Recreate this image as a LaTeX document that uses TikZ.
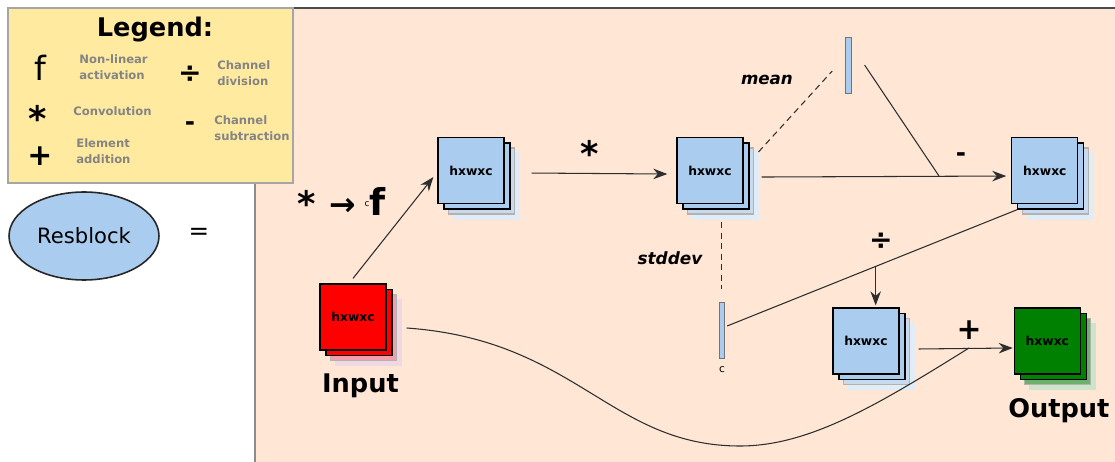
\documentclass[tikz,border=0pt]{standalone}
\usepackage{fontspec}
\setmainfont{DejaVu Sans}
\usetikzlibrary{positioning,shapes.geometric,shadows,arrows.meta,calc}

\definecolor{peach}{RGB}{255,230,213}
\definecolor{legendyellow}{RGB}{255,234,160}
\definecolor{legendgray}{RGB}{132,132,132}
\definecolor{mapblue}{RGB}{170,204,238}
\definecolor{mapblueL}{RGB}{200,219,238}
\definecolor{mapblueXL}{RGB}{226,236,246}
\definecolor{mapred}{RGB}{255,0,0}
\definecolor{mapredL}{RGB}{240,160,170}
\definecolor{mapredXL}{RGB}{240,215,225}
\definecolor{mapgreen}{RGB}{0,128,0}
\definecolor{mapgreenL}{RGB}{110,175,110}
\definecolor{mapgreenXL}{RGB}{205,228,200}
\definecolor{wirecol}{RGB}{45,45,45}

\newcommand{\fsz}[1]{\fontsize{#1}{#1}\selectfont}

\tikzset{
  fmap/.style n args={3}{draw=black, fill=#1, line width=0.7pt, minimum size=1.32cm, inner sep=0pt,
    font=\bfseries\fsz{7pt},
    general shadow={shadow xshift=0.31cm, shadow yshift=-0.31cm, fill=#3, draw=#3},
    general shadow={shadow xshift=0.21cm, shadow yshift=-0.21cm, fill=#2, draw=black!30},
    general shadow={shadow xshift=0.12cm, shadow yshift=-0.11cm, fill=#1, draw=black}},
  bluemap/.style={fmap={mapblue}{mapblueL}{mapblueXL}},
  redmap/.style={fmap={mapred}{mapredL}{mapredXL}},
  greenmap/.style={fmap={mapgreen}{mapgreenL}{mapgreenXL}},
  bar/.style={draw=black!55, fill=mapblue, line width=0.5pt, minimum width=0.11cm, minimum height=1.12cm, inner sep=0pt},
  wire/.style={draw=wirecol, line width=0.6pt},
  arr/.style={wire, -{Stealth[length=8pt,width=6pt]}},
  dashwire/.style={wire, dash pattern=on 3.5pt off 2.5pt},
  sym/.style={inner sep=0pt},
  legtext/.style={text=legendgray, font=\bfseries\fontsize{6.6pt}{9.2pt}\selectfont, align=left, inner sep=0pt, anchor=west}
}

\begin{document}
\begin{tikzpicture}[x=0.02cm, y=-0.02cm]
        \useasboundingbox (0,0) rectangle (1115,462);
        \fill[peach] (255,8) rectangle (1115,462);
        \draw[black!45, line width=1.2pt] (255,462) -- (255,8);
        \draw[black!70, line width=1.2pt] (255,8) -- (1115,8);
        \filldraw[fill=legendyellow, draw=black!35, line width=1pt] (8,8) rectangle (293,183);

        \node [font=\bfseries\fsz{14.6pt}] (LegTitle) at (155,30) {Legend:};
        \node [sym, font=\fsz{19pt}] (LegF) at (40.5,67.5) {f};
        \node [legtext] (LegFText) at (79,67) {Non-linear\\activation};
        \node [sym, font=\bfseries\fsz{20pt}] (LegConv) at (38,118) {*};
        \node [legtext] (LegConvText) at (73,111) {Convolution};
        \node [sym, font=\bfseries\fsz{17pt}] (LegAdd) at (40,156) {+};
        \node [legtext] (LegAddText) at (76,151) {Element\\addition};
        \node [sym, font=\bfseries\fsz{16pt}] (LegDiv) at (190,74) {÷};
        \node [legtext] (LegDivText) at (217,73) {Channel\\division};
        \node [sym, font=\bfseries\fsz{14pt}] (LegSub) at (190,126) {-};
        \node [legtext] (LegSubText) at (214,128) {Channel\\subtraction};

        \node [ellipse, draw=black!85, fill=mapblue, line width=0.9pt, minimum width=3cm, minimum height=1.76cm, inner sep=0pt, font=\fsz{12pt}] (Res) at (84,236) {Resblock};
        \node [sym, font=\fsz{14pt}] (Eq) at (199,234) {=};

        \node [redmap] (In) at (353,317) {hxwxc};
        \node [bluemap, on grid, above right=2.93cm and 2.36cm of In] (Act) {hxwxc};
        \node [bluemap, on grid, right=4.78cm of Act] (Conv) {hxwxc};
        \node [bluemap, on grid, right=6.7cm of Conv] (Centred) {hxwxc};
        \node [bar, on grid, above right=2.11cm and 2.77cm of Conv] (Mean) {};
        \node [bar, on grid, below right=3.19cm and 0.24cm of Conv] (Std) {};
        \node [bluemap, on grid, below right=3.41cm and 3.12cm of Conv] (Norm) {hxwxc};
        \node [greenmap, on grid, right=3.63cm of Norm] (Out) {hxwxc};

        \node [on grid, below right=1.38cm and 0.15cm of In, font=\bfseries\fsz{14.6pt}] (InText) {Input};
        \node [on grid, below right=1.4cm and 0.23cm of Out, font=\bfseries\fsz{14.6pt}] (OutText) {Output};
        \node [on grid, below left=0.3cm and 1.63cm of Mean, font=\bfseries\itshape\fsz{9.5pt}] (MeanText) {mean};
        \node [on grid, above left=1.44cm and 1.04cm of Std, font=\bfseries\itshape\fsz{9.6pt}] (StdText) {stddev};
        \node [on grid, below=0.8cm of Std, font=\fsz{6pt}] (StdC) {c};

        \node [sym, font=\bfseries\fsz{20pt}] (OpConvA) at (307,203) {*};
        \node [sym, font=\bfseries\fsz{18pt}] (OpTo) at (343,207) {→};
        \node [sym, font=\fsz{5pt}] (OpC) at (367,204) {c};
        \node [sym, font=\bfseries\fsz{21pt}] (OpF) at (378,201) {f};
        \node [sym, font=\bfseries\fsz{20pt}] (OpConvB) at (590,153) {*};
        \node [sym, font=\bfseries\fsz{14pt}] (OpSub) at (961,157) {-};
        \node [sym, font=\bfseries\fsz{16pt}] (OpDiv) at (881,241) {÷};
        \node [sym, font=\bfseries\fsz{17pt}] (OpAdd) at (969,330) {+};

        \coordinate (Sub) at (939,176);
        \coordinate (Add) at (969,348);
        \coordinate (Dip) at (740,446);

        \draw [arr] ([yshift=0.1cm]In.north) -- ([xshift=-0.08cm,yshift=-0.13cm]Act.west);
        \draw [arr] ([xshift=0.54cm,yshift=-0.05cm]Act.east) -- ([xshift=-0.18cm,yshift=-0.07cm]Conv.west);
        \draw [arr] ([xshift=0.36cm,yshift=-0.13cm]Conv.east) -- ([xshift=-0.1cm,yshift=-0.11cm]Centred.west);
        \draw [dashwire] ([xshift=0.3cm,yshift=-0.3cm]Conv.north east) -- ([xshift=-0.26cm,yshift=-0.12cm]Mean.west);
        \draw [dashwire] ([xshift=0.24cm,yshift=-0.36cm]Conv.south) -- ([yshift=0.26cm]Std.north);
        \draw [wire] ([xshift=0.26cm]Mean.east) -- (Sub);
        \draw [wire] ([xshift=0.04cm,yshift=0.08cm]Std.east) coordinate (StdOut) -- ([xshift=0.12cm,yshift=-0.11cm]Centred.south west) coordinate (CentredFoot);
        \coordinate (Div) at ($(StdOut)!0.512!(CentredFoot)$);
        \draw [arr] (Div) -- ([yshift=0.04cm]Div |- Norm.north);
        \draw [arr] ([xshift=0.38cm,yshift=-0.16cm]Norm.east) -- ([xshift=-0.02cm,yshift=-0.14cm]Out.west);
        \draw [wire] ([xshift=0.4cm,yshift=-0.22cm]In.east) .. controls +(170,12) and +(-130,0) .. (Dip) .. controls +(70,0) and +(-90,56) .. (Add);
      \end{tikzpicture}
\end{document}
